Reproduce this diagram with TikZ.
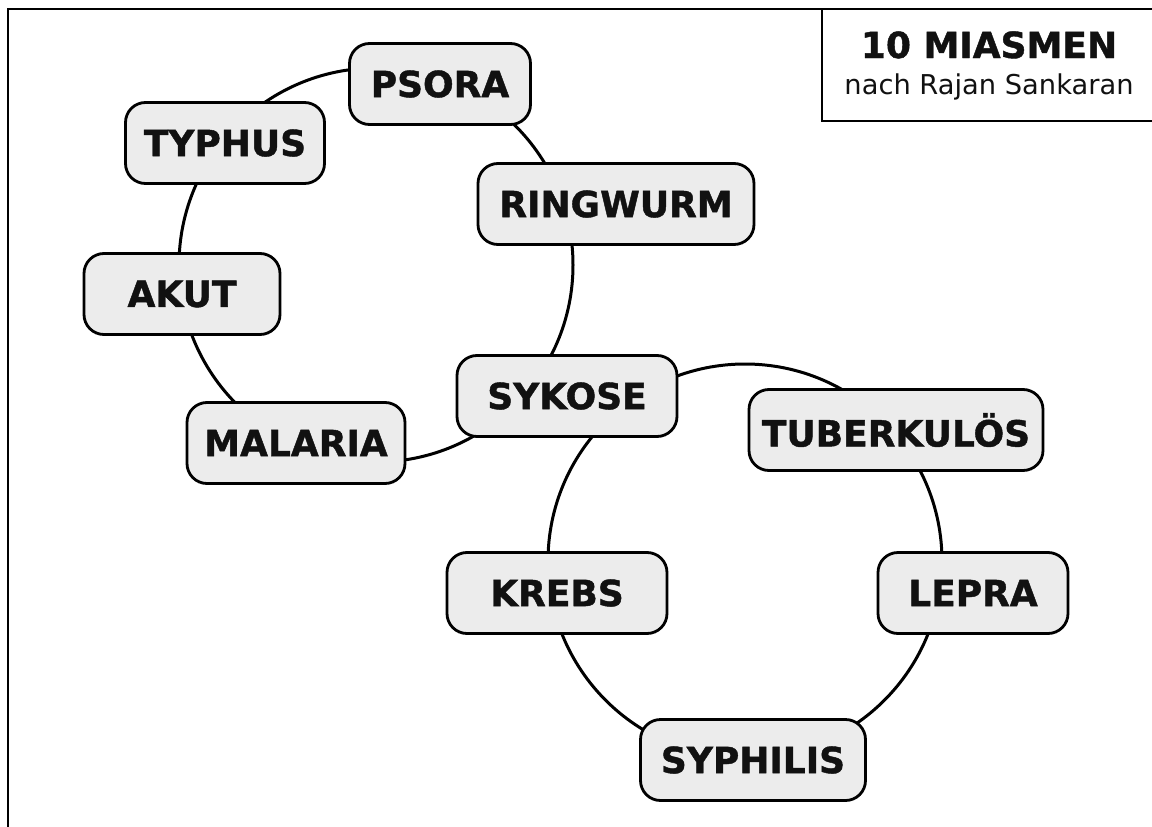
\documentclass[tikz,border=0pt]{standalone}
\usepackage{fontspec}
\setmainfont[BoldFeatures={FakeBold=1.2}]{DejaVu Sans}
\definecolor{boxgray}{HTML}{ECECEC}
\definecolor{inkblack}{HTML}{111111}
\begin{document}
\begin{tikzpicture}[x=1pt,y=-1pt,
  box/.style={draw=black, line width=2.8pt, fill=boxgray, rounded corners=20pt,
    minimum height=81pt, inner sep=0pt, text=inkblack,
    font=\fontsize{36}{40}\selectfont\bfseries},
  ring/.style={draw=black, line width=3pt},
  frame/.style={draw=black, line width=2pt}]
\useasboundingbox (0,0) rectangle (1152,827);
% page frame (left and top)
\draw[frame] (8,827) -- (8,9) -- (1152,9);
% title box
\draw[frame] (822,9) -- (822,121) -- (1153,121);
\node[anchor=base, font=\fontsize{36}{40}\selectfont\bfseries, text=inkblack] (title) at (989,58) {10 MIASMEN};
\node[anchor=base, font=\fontsize{27.3}{30}\selectfont, text=inkblack] (subtitle) at (989,94) {nach Rajan Sankaran};
% rings
\coordinate (c1) at (376,265);
\coordinate (c2) at (745,561);
\draw[ring] (c1) circle[radius=197pt];
\draw[ring] (c2) circle[radius=197pt];
% nodes
\node[box, minimum width=181pt] (psora) at (440,84) {PSORA};
\node[box, minimum width=199pt] (typhus) at (225,143) {TYPHUS};
\node[box, minimum width=276pt] (ringwurm) at (616,204) {RINGWURM};
\node[box, minimum width=196pt] (akut) at (182,294) {AKUT};
\node[box, minimum width=220pt] (sykose) at (567,396) {SYKOSE};
\node[box, minimum width=218pt] (malaria) at (296,443) {MALARIA};
\node[box, minimum width=294pt] (tuberkulos) at (896,430) {TUBERKULÖS};
\node[box, minimum width=220pt] (krebs) at (557,593) {KREBS};
\node[box, minimum width=190pt] (lepra) at (973,593) {LEPRA};
\node[box, minimum width=225pt] (syphilis) at (753,760) {SYPHILIS};
\end{tikzpicture}
\end{document}
